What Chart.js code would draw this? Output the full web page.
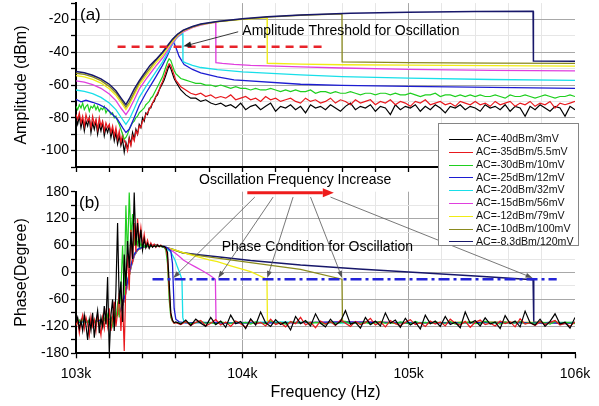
<!DOCTYPE html>
<html>
<head>
<meta charset="utf-8">
<script src="https://cdn.jsdelivr.net/npm/chart.js@4.4.1/dist/chart.umd.min.js"></script>
<style>
html, body { margin: 0; padding: 0; background: #fff; }
#wrap { position: relative; width: 599px; height: 406px; overflow: hidden; font-family: 'Liberation Sans', Arial, sans-serif; }
#ampBox { position: absolute; left: 0; top: -10px; width: 599px; height: 190px; }
#phaseBox { position: absolute; left: 0; top: 170px; width: 599px; height: 236px; }
#legend { position: absolute; left: 438px; top: 123px; width: 139px; height: 121px; border: 1px solid #858585; background: #fff; }
.lg-row { position: absolute; left: 10px; height: 13px; line-height: 13px; font-size: 10.6px; color: #111; white-space: nowrap; }
.lg-line { display: inline-block; width: 24px; border-top: 1.5px solid; vertical-align: middle; margin-right: 3px; }
</style>
</head>
<body>
<div id="wrap">
  <div id="ampBox"><canvas id="ampChart" width="599" height="190"></canvas></div>
  <div id="phaseBox"><canvas id="phaseChart" width="599" height="236"></canvas></div>
  <div id="legend"></div>
</div>
<script>
'use strict';

// series order: black, red, green, blue, cyan, magenta, yellow, olive, navy
var LABELS = ['AC=-40dBm/3mV', 'AC=-35dBm/5.5mV', 'AC=-30dBm/10mV', 'AC=-25dBm/12mV', 'AC=-20dBm/32mV',
  'AC=-15dBm/56mV', 'AC=-12dBm/79mV', 'AC=-10dBm/100mV', 'AC=-8.3dBm/120mV'];
var COLORS = ['#000000', '#e8191e', '#1fcf1f', '#1c1cd2', '#18dfe9', '#e03fde', '#f0ec14', '#8a8a1e', '#17176a'];

// frequency grids (kHz) for the noisy traces
var F_LEFT = [103.00, 103.01, 103.02, 103.03, 103.04, 103.05, 103.06, 103.07, 103.08, 103.09,
  103.10, 103.11, 103.12, 103.13, 103.14, 103.15, 103.16, 103.17, 103.18, 103.19,
  103.20, 103.21, 103.22, 103.23, 103.24, 103.25, 103.26, 103.27, 103.28, 103.29,
  103.30, 103.31, 103.32, 103.33, 103.34, 103.35, 103.36, 103.37, 103.38, 103.39,
  103.40, 103.41, 103.42, 103.43, 103.44, 103.45, 103.46, 103.47, 103.48, 103.49,
  103.50, 103.51, 103.52, 103.53, 103.54, 103.55, 103.56, 103.57, 103.58, 103.59];
var F_TAIL = [103.60, 103.63, 103.66, 103.69, 103.72, 103.75, 103.78, 103.81, 103.84, 103.87,
  103.90, 103.93, 103.96, 103.99, 104.02, 104.05, 104.08, 104.11, 104.14, 104.17,
  104.20, 104.23, 104.26, 104.29, 104.32, 104.35, 104.38, 104.41, 104.44, 104.47,
  104.50, 104.53, 104.56, 104.59, 104.62, 104.65, 104.68, 104.71, 104.74, 104.77,
  104.80, 104.83, 104.86, 104.89, 104.92, 104.95, 104.98, 105.01, 105.04, 105.07,
  105.10, 105.13, 105.16, 105.19, 105.22, 105.25, 105.28, 105.31, 105.34, 105.37,
  105.40, 105.43, 105.46, 105.49, 105.52, 105.55, 105.58, 105.61, 105.64, 105.67,
  105.70, 105.73, 105.76, 105.79, 105.82, 105.85, 105.88, 105.91, 105.94, 105.97, 106.00];

// ---- amplitude (dBm) ----
var AMP_BLACK_LEFT = [-80, -84, -79, -86, -81, -88, -82, -85, -80, -89,
  -83, -87, -82, -90, -84, -88, -83, -91, -86, -89,
  -85, -92, -87, -94, -89, -96, -91, -97, -93, -101,
  -95, -99, -92, -96, -89, -93, -87, -90, -84, -86,
  -80, -82, -77, -78, -74, -74, -71, -70, -67, -66,
  -63, -61, -59, -57, -54, -51, -48, -50, -53, -56];
var AMP_BLACK_TAIL = [-58, -63, -66, -68, -68, -70, -69, -71, -72, -71,
  -73, -72, -74, -71, -75, -73, -72, -75, -73, -71,
  -76, -73, -74, -72, -75, -73, -77, -72, -74, -73,
  -75, -72, -74, -76, -73, -71, -75, -73, -74, -72,
  -76, -73, -74, -78, -72, -75, -73, -74, -72, -76,
  -73, -75, -72, -74, -77, -73, -74, -72, -75, -73,
  -74, -76, -72, -74, -73, -75, -72, -76, -73, -74,
  -79, -73, -75, -72, -74, -76, -73, -74, -79, -73, -75];
var AMP_RED_LEFT = [-78, -81, -77, -83, -79, -85, -78, -82, -80, -86,
  -79, -84, -81, -87, -80, -85, -82, -88, -83, -86,
  -84, -89, -85, -91, -86, -93, -88, -95, -90, -94,
  -96, -100, -93, -97, -91, -94, -88, -90, -85, -86,
  -82, -81, -78, -77, -75, -73, -71, -69, -67, -65,
  -63, -60, -58, -55, -52, -49, -47, -48, -51, -54];
var AMP_RED_TAIL = [-57, -61, -63, -65, -66, -65, -67, -66, -68, -67,
  -68, -66, -69, -68, -67, -69, -68, -70, -67, -69,
  -68, -70, -69, -68, -70, -71, -68, -70, -69, -71,
  -70, -68, -71, -69, -70, -72, -69, -71, -70, -69,
  -72, -70, -71, -69, -72, -70, -71, -73, -70, -71,
  -69, -72, -71, -70, -72, -71, -73, -70, -71, -72,
  -70, -72, -71, -73, -70, -72, -71, -70, -73, -71,
  -72, -70, -73, -71, -72, -70, -74, -71, -72, -71, -70];
var AMP_GREEN_LEFT = [-73, -75, -72, -74, -71, -75, -73, -72, -76, -73,
  -74, -72, -75, -73, -76, -74, -75, -73, -77, -75,
  -76, -78, -77, -80, -79, -82, -84, -87, -90, -93,
  -92, -90, -87, -85, -83, -82, -80, -79, -77, -76,
  -75, -74, -72, -71, -70, -68, -67, -65, -63, -61,
  -59, -57, -55, -52, -49, -46, -44, -45, -48, -51];
var AMP_GREEN_TAIL = [-53, -56, -57, -58, -59, -59, -60, -60, -61, -60,
  -61, -62, -61, -62, -62, -63, -62, -63, -63, -62,
  -63, -64, -63, -64, -63, -64, -64, -63, -65, -64,
  -64, -65, -64, -65, -65, -64, -65, -66, -65, -65,
  -66, -65, -65, -66, -65, -66, -66, -65, -66, -67,
  -66, -66, -65, -67, -66, -66, -67, -66, -67, -66,
  -67, -66, -67, -67, -66, -67, -68, -66, -67, -67,
  -66, -67, -68, -67, -66, -67, -68, -67, -67, -66, -67];

var AMP_BLUE_F = [103.00, 103.03, 103.06, 103.10, 103.14, 103.18, 103.22, 103.25, 103.28, 103.30,
  103.32, 103.35, 103.38, 103.42, 103.45, 103.48, 103.52, 103.55, 103.57, 103.585,
  103.60, 103.62, 103.65, 103.70, 103.75, 103.85, 103.95, 104.35, 104.60, 105.00, 105.50, 106.00];
var AMP_BLUE = [-68.7, -70.2, -69.3, -70.5, -72, -74, -78, -81, -86, -89,
  -87, -80, -72.5, -65, -60, -55, -48, -42, -37, -33.5,
  -37, -42.5, -47.5, -50.5, -52.5, -55, -56.8, -59.5, -60.2, -60.8, -61.4, -62];

var AMP_CYAN_F = [103.00, 103.05, 103.10, 103.15, 103.20, 103.24, 103.27, 103.30, 103.32, 103.35,
  103.38, 103.42, 103.45, 103.48, 103.52, 103.55, 103.575, 103.60, 103.62, 103.642,
  103.643, 103.66, 103.70, 103.75, 103.85, 104.00, 104.35, 104.60, 105.00, 105.50, 106.00];
var AMP_CYAN = [-63, -63.8, -65.2, -67.5, -71, -75, -79.5, -84, -81, -74.5,
  -67.5, -61, -56.5, -52, -46, -40.5, -36, -32, -30, -28.5,
  -45.7, -46.5, -48, -49.3, -50.6, -52, -53.8, -54.8, -55.8, -56.6, -57.1];

var AMP_MAGENTA_F = [103.00, 103.05, 103.10, 103.15, 103.20, 103.24, 103.27, 103.30, 103.32, 103.35,
  103.38, 103.42, 103.45, 103.48, 103.52, 103.55, 103.58, 103.61, 103.645, 103.70,
  103.75, 103.80, 103.84, 103.841, 103.88, 103.95, 104.05, 104.20, 104.35, 104.60,
  105.00, 105.50, 106.00];
var AMP_MAGENTA = [-57.5, -58.2, -59.7, -62, -65.5, -69.5, -74, -78, -75, -69,
  -62.5, -56.5, -52.5, -48.5, -43.5, -39, -34.5, -30.5, -27.5, -25,
  -23.4, -22.4, -21.8, -46.3, -46.8, -47.4, -48, -48.5, -48.9, -49.6,
  -50.4, -51, -51.4];

var AMP_YELLOW_F = [103.00, 103.05, 103.10, 103.15, 103.20, 103.24, 103.27, 103.30, 103.32, 103.35,
  103.38, 103.42, 103.45, 103.48, 103.52, 103.55, 103.58, 103.61, 103.645, 103.70,
  103.75, 103.85, 104.00, 104.149, 104.15, 104.35, 104.60, 105.00, 105.50, 106.00];
var AMP_YELLOW = [-54.3, -55, -56.5, -58.8, -62.3, -66.3, -70.5, -75, -72, -66,
  -60, -54.5, -50.5, -46.5, -42, -37.5, -33.5, -29.8, -27, -24.7,
  -23.1, -21.4, -19.9, -19, -46.7, -47.2, -47.6, -47.9, -48.2, -48.5];

var AMP_OLIVE_F = [103.00, 103.05, 103.10, 103.15, 103.20, 103.24, 103.27, 103.30, 103.32, 103.35,
  103.38, 103.42, 103.45, 103.48, 103.52, 103.55, 103.58, 103.61, 103.645, 103.70,
  103.75, 103.85, 104.00, 104.15, 104.35, 104.599, 104.60, 105.00, 105.50, 106.00];
var AMP_OLIVE = [-52.8, -53.5, -55, -57.3, -60.8, -64.8, -69, -73.5, -70.5, -64.5,
  -58.5, -53, -49, -45, -40.5, -36.5, -32.5, -29.2, -26.7, -24.5,
  -23, -21.3, -19.8, -18.6, -17.4, -16.6, -45.8, -46.3, -46.6, -46.8];

var AMP_NAVY_F = [103.00, 103.05, 103.10, 103.15, 103.20, 103.24, 103.27, 103.30, 103.32, 103.35,
  103.38, 103.40, 103.445, 103.48, 103.52, 103.55, 103.58, 103.61, 103.645, 103.70,
  103.75, 103.85, 104.00, 104.15, 104.35, 104.65, 105.00, 105.40, 105.748, 105.75, 106.00];
var AMP_NAVY = [-51.8, -52.5, -54, -56.2, -59.5, -63.5, -67.8, -72, -68.5, -62.5,
  -57.5, -54.5, -48, -44.5, -40, -36, -32, -29, -26.5, -24.3,
  -22.8, -21.2, -19.6, -18.4, -17.2, -16.2, -15.6, -15.2, -15.0, -45.3, -45.5];

// ---- phase (degree) ----
var PH_BLACK_LEFT = [-112, -100, -125, -108, -130, -95, -118, -150, -105, -128,
  -90, -145, -110, -85, -135, -100, -120, -75, -115, -10,
  -180, -95, -60, -130, -40, 110, -70, -20, -110, 40,
  -30, 70, 10, 90, 30, 178, 60, 110, 55, 95,
  50, 75, 55, 65, 54, 62, 56, 60, 57, 61,
  58, 60, 57, 58, 55, 45, -20, -90, -106, -112];
var PH_BLACK_TAIL = [-110, -115, -106, -118, -104, -113, -120, -100, -116, -108,
  -122, -95, -114, -109, -125, -103, -117, -88, -112, -120,
  -105, -116, -110, -128, -98, -114, -107, -119, -92, -113,
  -121, -104, -117, -109, -85, -115, -111, -124, -100, -116,
  -108, -119, -90, -113, -106, -122, -102, -117, -110, -126,
  -95, -114, -108, -120, -98, -116, -111, -123, -88, -113,
  -107, -119, -101, -115, -110, -125, -96, -114, -108, -121,
  -86, -112, -117, -104, -120, -109, -92, -115, -111, -124, -100];
var PH_RED_LEFT = [-118, -105, -135, -110, -95, -125, -100, -115, -140, -98,
  -120, -105, -130, -92, -118, -140, -100, -125, -90, -120,
  -80, -130, -100, -65, -120, -90, -45, -130, -60, -175,
  -20, 40, -40, 95, 20, 110, 45, 120, 70, 100,
  60, 85, 58, 72, 56, 66, 58, 63, 56, 62,
  57, 61, 58, 57, 54, 35, -40, -95, -108, -113];
var PH_RED_TAIL = [-112, -116, -109, -118, -111, -107, -119, -113, -105, -117,
  -110, -120, -108, -114, -122, -106, -115, -111, -119, -104,
  -116, -112, -121, -109, -114, -100, -117, -111, -123, -108,
  -115, -110, -118, -106, -113, -120, -109, -116, -112, -102,
  -117, -110, -121, -107, -114, -118, -111, -105, -116, -112,
  -120, -108, -115, -110, -119, -104, -113, -117, -109, -122,
  -111, -106, -116, -113, -119, -108, -114, -110, -121, -103,
  -115, -112, -118, -109, -116, -111, -107, -117, -113, -120, -110];
var PH_GREEN_LEFT = [-110, -114, -106, -112, -104, -115, -108, -113, -105, -111,
  -118, -106, -112, -100, -115, -108, -120, -102, -112, -95,
  -115, -100, -118, -85, -105, -70, -100, -40, 60, -50,
  150, 30, 178, 80, 130, 60, 95, 62, 75, 58,
  66, 57, 63, 58, 61, 58, 60, 59, 61, 59,
  60, 58, 59, 56, 50, 20, -60, -100, -109, -112];
var PH_GREEN_TAIL = [-111, -113, -110, -114, -112, -109, -113, -111, -115, -110,
  -112, -114, -109, -113, -111, -115, -110, -112, -114, -108,
  -113, -111, -115, -110, -112, -113, -109, -114, -111, -112,
  -115, -110, -113, -112, -109, -114, -111, -113, -110, -115,
  -112, -109, -113, -111, -114, -110, -112, -115, -109, -113,
  -111, -114, -110, -112, -113, -109, -115, -111, -112, -110,
  -114, -113, -109, -112, -111, -115, -110, -113, -112, -109,
  -114, -111, -113, -110, -112, -115, -109, -113, -111, -112, -114];

var PH_LEFT_F = [103.00, 103.05, 103.10, 103.15, 103.20, 103.24, 103.27, 103.29, 103.31, 103.33,
  103.35, 103.37, 103.40, 103.44, 103.48];

var PH_BLUE_F = PH_LEFT_F.concat([103.52, 103.55, 103.57, 103.58, 103.585, 103.59, 103.60, 103.62,
  103.66, 103.75, 103.90, 104.20, 104.60, 105.00, 105.50, 106.00]);
var PH_BLUE = [-113, -108, -111, -106, -105, -97, -82, -58, -20, 15, 40, 51, 57, 59, 60,
  59, 55, 48, 20, -30, -80, -104, -110, -112, -111, -113, -112, -110, -112, -111, -113];

var PH_CYAN_F = PH_LEFT_F.concat([103.51, 103.54, 103.57, 103.595, 103.61, 103.625, 103.637, 103.642,
  103.65, 103.68, 103.75, 103.90, 104.20, 104.60, 105.00, 105.50, 106.00]);
var PH_CYAN = [-112, -110, -110, -108, -104, -97, -80, -55, -18, 18, 42, 52, 57, 59, 60,
  58, 54, 46, 28, 12, -2, -16, -100, -111, -113, -111, -112, -110, -113, -111, -112, -111];

var PH_MAGENTA_F = PH_LEFT_F.concat([103.51, 103.53, 103.56, 103.59, 103.62, 103.645, 103.68, 103.72,
  103.76, 103.80, 103.838, 103.842, 103.88, 104.00, 104.30, 104.70, 105.20, 105.60, 106.00]);
var PH_MAGENTA = [-110, -109, -108, -106, -103, -96, -83, -60, -22, 14, 39, 51, 56, 59, 61,
  59, 57, 52, 45, 36, 28, 20, 12, 4, -5, -15, -110, -113, -111, -112, -110, -113, -111, -112];

var PH_YELLOW_F = PH_LEFT_F.concat([103.52, 103.56, 103.60, 103.64, 103.70, 103.75, 103.80, 103.85,
  103.93, 104.05, 104.148, 104.151, 104.20, 104.40, 104.70, 105.10, 105.50, 106.00]);
var PH_YELLOW = [-109, -108, -107, -105, -102, -95, -82, -60, -23, 13, 39, 50, 56, 59, 60,
  57, 54, 50, 45, 38, 33, 28, 24, 15, 2, -15, -108, -112, -111, -113, -112, -110, -112];

var PH_OLIVE_F = PH_LEFT_F.concat([103.52, 103.58, 103.64, 103.75, 103.85, 104.05, 104.35, 104.599,
  104.602, 104.65, 104.80, 105.00, 105.30, 105.60, 106.00]);
var PH_OLIVE = [-110, -109, -108, -106, -103, -97, -84, -62, -26, 11, 37, 50, 56, 59, 61,
  57, 51, 44, 37, 32, 22, 7, -15, -108, -112, -110, -113, -111, -112, -111];

var PH_NAVY_F = PH_LEFT_F.concat([103.52, 103.58, 103.64, 103.75, 103.85, 104.05, 104.35, 104.70,
  105.00, 105.40, 105.748, 105.752, 105.80, 105.86, 105.92, 106.00]);
var PH_NAVY = [-111, -110, -109, -107, -104, -98, -85, -62, -25, 12, 38, 50, 56, 59, 61,
  58, 52, 44, 39, 35, 26.5, 16.5, 8, 1, -8, -16, -110, -113, -111, -114, -112];

// annotation anchors (data coordinates)
var THRESHOLD_DBM = -36.6, THRESHOLD_FROM = 103.25, THRESHOLD_TO = 104.50;
var COND_DEG = -15, COND_FROM = 103.46, COND_TO = 105.89;
var POINTER_FROM = [104.075, 104.185, 104.305, 104.41, 104.53];
var POINTER_TO = [103.585, 103.855, 104.15, 104.60, 105.745];

var FONT = "'Liberation Sans', Arial, sans-serif";
Chart.defaults.font.family = FONT;
Chart.defaults.color = '#000';

function isMultiple(v, m) { return Math.abs(v / m - Math.round(v / m)) < 1e-6; }

function pts(fs, vs) {
  return fs.map(function (f, i) { return { x: f, y: vs[i] }; });
}

function line(i, data, width) {
  return {
    label: LABELS[i], data: data, borderColor: COLORS[i], backgroundColor: COLORS[i],
    borderWidth: width || 1.3, pointRadius: 0, fill: false, tension: 0
  };
}

function makeOptions(cfg) {
  return {
    responsive: false,
    animation: false,
    events: [],
    layout: { autoPadding: false, padding: { left: 0, right: 24, top: cfg.padTop, bottom: 0 } },
    plugins: { legend: { display: false }, tooltip: { enabled: false } },
    scales: {
      x: {
        type: 'linear', min: 103, max: 106,
        ticks: {
          stepSize: 0.2, autoSkip: false, maxRotation: 0, padding: 7,
          font: { size: 14 }, color: '#000',
          callback: function (v) { return cfg.xLabels && isMultiple(v, 1) ? Math.round(v) + 'k' : ''; }
        },
        grid: {
          lineWidth: 1, tickLength: 5, tickColor: '#000', tickWidth: 1.3,
          color: function (c) {
            var v = c.tick ? c.tick.value : 103;
            if (v < 103.001 || v > 105.999) return 'rgba(0,0,0,0)';
            return isMultiple(v, 1) ? '#a6a6a6' : '#e6e6e6';
          }
        },
        border: { color: '#000', width: 2 },
        title: cfg.xLabels ? {
          display: true, text: 'Frequency (Hz)', font: { size: 16 }, color: '#000',
          padding: { top: 0, bottom: 4 }
        } : { display: false },
        afterFit: function (s) { s.height = cfg.xHeight; }
      },
      y: {
        type: 'linear', min: cfg.yMin, max: cfg.yMax,
        ticks: {
          stepSize: cfg.yStep, autoSkip: false, padding: 2, font: { size: 14 }, color: '#000',
          callback: function (v) {
            if (v >= cfg.yMax - 1e-6) return cfg.labelTop ? String(v) : '';
            return isMultiple(v, cfg.yMajor) ? String(v) : '';
          }
        },
        grid: {
          lineWidth: 1, tickLength: 5, tickColor: '#000', tickWidth: 1.3,
          color: function (c) {
            var v = c.tick ? c.tick.value : cfg.yMin;
            if (v <= cfg.yMin + 1e-6 || v >= cfg.yMax - 1e-6) return 'rgba(0,0,0,0)';
            return isMultiple(v, cfg.yMajor) ? '#a8a8a8' : '#e6e6e6';
          }
        },
        border: { color: '#000', width: 2 },
        title: {
          display: true, text: cfg.yTitle, font: { size: 16 }, color: '#000',
          padding: { top: 12.4, bottom: 0 }
        },
        afterFit: function (s) { s.width = 76; }
      }
    }
  };
}

function text(ctx, str, x, y, size) {
  ctx.save();
  ctx.font = size + 'px ' + FONT;
  ctx.fillStyle = '#000';
  ctx.textAlign = 'left';
  ctx.textBaseline = 'middle';
  ctx.fillText(str, x, y);
  ctx.restore();
}

function arrow(ctx, x1, y1, x2, y2, color, width, headLen, headHalf) {
  var ang = Math.atan2(y2 - y1, x2 - x1);
  var bx = x2 - headLen * Math.cos(ang), by = y2 - headLen * Math.sin(ang);
  ctx.save();
  ctx.strokeStyle = color; ctx.fillStyle = color; ctx.lineWidth = width;
  ctx.beginPath(); ctx.moveTo(x1, y1); ctx.lineTo(bx, by); ctx.stroke();
  ctx.beginPath(); ctx.moveTo(x2, y2);
  ctx.lineTo(bx + headHalf * Math.sin(ang), by - headHalf * Math.cos(ang));
  ctx.lineTo(bx - headHalf * Math.sin(ang), by + headHalf * Math.cos(ang));
  ctx.closePath(); ctx.fill();
  ctx.restore();
}

function dashed(ctx, x1, x2, y, color, width, dash) {
  ctx.save();
  ctx.strokeStyle = color; ctx.lineWidth = width; ctx.setLineDash(dash);
  ctx.beginPath(); ctx.moveTo(x1, y); ctx.lineTo(x2, y); ctx.stroke();
  ctx.restore();
}

var ampNotes = {
  id: 'ampNotes',
  afterDatasetsDraw: function (chart) {
    var ctx = chart.ctx, x = chart.scales.x, y = chart.scales.y;
    text(ctx, '(a)', x.getPixelForValue(103.024), y.getPixelForValue(-17.3), 17);
    dashed(ctx, x.getPixelForValue(THRESHOLD_FROM), x.getPixelForValue(THRESHOLD_TO),
      y.getPixelForValue(THRESHOLD_DBM), '#e8232a', 2.6, [8, 6]);
    text(ctx, 'Amplitude Threshold for Oscillation', x.getPixelForValue(104.0), y.getPixelForValue(-27.4), 14);
    arrow(ctx, x.getPixelForValue(103.975), y.getPixelForValue(-27.5),
      x.getPixelForValue(103.645), y.getPixelForValue(-36.4), '#222', 0.9, 8, 3);
  }
};

var phaseNotes = {
  id: 'phaseNotes',
  afterDatasetsDraw: function (chart) {
    var ctx = chart.ctx, x = chart.scales.x, y = chart.scales.y;
    text(ctx, '(b)', x.getPixelForValue(103.018), y.getPixelForValue(155), 17);
    text(ctx, 'Oscillation Frequency Increase', x.getPixelForValue(103.74), y.getPixelForValue(206), 14);
    arrow(ctx, x.getPixelForValue(104.03), y.getPixelForValue(177.8),
      x.getPixelForValue(104.55), y.getPixelForValue(177.8), '#ee1c1c', 3, 11, 4.5);
    text(ctx, 'Phase Condition for Oscillation', x.getPixelForValue(103.876), y.getPixelForValue(57.5), 14);
    POINTER_FROM.forEach(function (f, i) {
      arrow(ctx, x.getPixelForValue(f), y.getPixelForValue(168),
        x.getPixelForValue(POINTER_TO[i]), y.getPixelForValue(-12), '#555', 0.8, 7, 2.5);
    });
    dashed(ctx, x.getPixelForValue(COND_FROM), x.getPixelForValue(COND_TO),
      y.getPixelForValue(COND_DEG), '#2424d8', 2.5, [11, 4, 3, 4]);
  }
};

var F_NOISE = F_LEFT.concat(F_TAIL);

var ampSets = [
  line(8, pts(AMP_NAVY_F, AMP_NAVY), 1.5),
  line(7, pts(AMP_OLIVE_F, AMP_OLIVE)),
  line(6, pts(AMP_YELLOW_F, AMP_YELLOW)),
  line(5, pts(AMP_MAGENTA_F, AMP_MAGENTA)),
  line(4, pts(AMP_CYAN_F, AMP_CYAN)),
  line(3, pts(AMP_BLUE_F, AMP_BLUE)),
  line(2, pts(F_NOISE, AMP_GREEN_LEFT.concat(AMP_GREEN_TAIL)), 1.2),
  line(1, pts(F_NOISE, AMP_RED_LEFT.concat(AMP_RED_TAIL)), 1.2),
  line(0, pts(F_NOISE, AMP_BLACK_LEFT.concat(AMP_BLACK_TAIL)), 1.2)
];

var phaseSets = [
  line(0, pts(F_NOISE, PH_BLACK_LEFT.concat(PH_BLACK_TAIL)), 1.2),
  line(1, pts(F_NOISE, PH_RED_LEFT.concat(PH_RED_TAIL)), 1.2),
  line(2, pts(F_NOISE, PH_GREEN_LEFT.concat(PH_GREEN_TAIL)), 1.2),
  line(3, pts(PH_BLUE_F, PH_BLUE)),
  line(4, pts(PH_CYAN_F, PH_CYAN)),
  line(5, pts(PH_MAGENTA_F, PH_MAGENTA)),
  line(6, pts(PH_YELLOW_F, PH_YELLOW)),
  line(7, pts(PH_OLIVE_F, PH_OLIVE)),
  line(8, pts(PH_NAVY_F, PH_NAVY), 1.5)
];

// amplitude canvas starts 10px above the page so its plot top lands at y=3
new Chart(document.getElementById('ampChart'), {
  type: 'line',
  data: { datasets: ampSets },
  options: makeOptions({ padTop: 13.1, xHeight: 13, xLabels: false, yMin: -110, yMax: -10, yStep: 10, yMajor: 20,
    yTitle: 'Amplitude (dBm)', labelTop: false }),
  plugins: [ampNotes]
});

new Chart(document.getElementById('phaseChart'), {
  type: 'line',
  data: { datasets: phaseSets },
  options: makeOptions({ padTop: 21.7, xHeight: 52.7, xLabels: true, yMin: -180, yMax: 180, yStep: 30, yMajor: 60,
    yTitle: 'Phase(Degree)', labelTop: true }),
  plugins: [phaseNotes]
});

(function buildLegend() {
  var box = document.getElementById('legend');
  LABELS.forEach(function (lab, i) {
    var row = document.createElement('div');
    row.className = 'lg-row';
    row.style.top = (8.2 + i * 12.8) + 'px';
    row.innerHTML = '<span class="lg-line" style="border-top-color:' + COLORS[i] + '"></span>' + lab;
    box.appendChild(row);
  });
})();
</script>
</body>
</html>
